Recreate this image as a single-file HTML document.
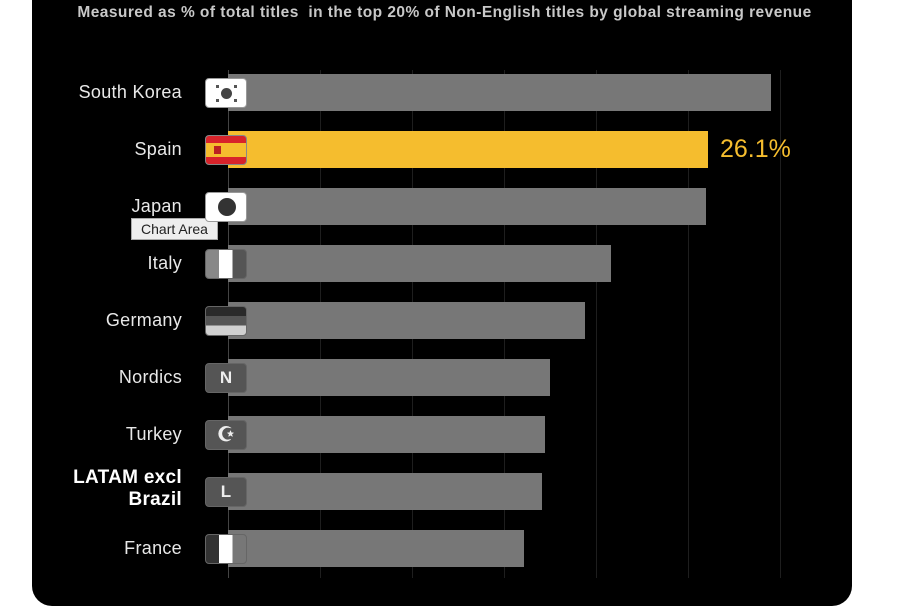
<!DOCTYPE html>
<html><head><meta charset="utf-8"><style>
body{margin:0;width:909px;height:607px;background:#fff;position:relative;overflow:hidden;font-family:"Liberation Sans",sans-serif}
#p{position:absolute;left:32px;top:-20px;width:820px;height:626px;background:#000;border-radius:20px}
.t{position:absolute;left:0;width:889px;top:4px;text-align:center;color:#c8c8c8;font-size:15.5px;letter-spacing:0.45px;font-weight:bold}
.g{position:absolute;top:70px;height:508px;width:1px;background:#1e1e1e}
.bar{position:absolute;left:228px;height:37px;background:#777}
.lab{position:absolute;right:727px;color:#e8e8e8;font-size:18px;letter-spacing:0.3px;text-align:right;line-height:20px}
.f{position:absolute;left:205px;width:42px;height:30px;border-radius:4px;box-sizing:border-box;border:1px solid #666;overflow:hidden;background:#555;color:#eee;font-size:17px;font-weight:bold;text-align:center;line-height:28px}
.d{position:absolute;width:3px;height:3px;background:#555}
</style></head><body>
<div id="p"></div>
<div class="t">Measured as % of total titles&nbsp; in the top 20% of Non-English titles by global streaming revenue</div>
<div class="g" style="left:228px;background:#444"></div>
<div class="g" style="left:320px"></div><div class="g" style="left:412px"></div><div class="g" style="left:504px"></div><div class="g" style="left:596px"></div><div class="g" style="left:688px"></div><div class="g" style="left:780px"></div>

<div class="bar" style="top:74px;width:543px"></div>
<div class="bar" style="top:131px;width:480px;background:#f5bd2e"></div>
<div class="bar" style="top:188px;width:478px"></div>
<div class="bar" style="top:245px;width:383px"></div>
<div class="bar" style="top:302px;width:357px"></div>
<div class="bar" style="top:359px;width:322px"></div>
<div class="bar" style="top:416px;width:317px"></div>
<div class="bar" style="top:473px;width:314px"></div>
<div class="bar" style="top:530px;width:296px"></div>
<div style="position:absolute;left:720px;top:135px;color:#f5bd2e;font-size:25px">26.1%</div>

<div class="lab" style="top:82px">South Korea</div>
<div class="lab" style="top:139px">Spain</div>
<div class="lab" style="top:196px">Japan</div>
<div class="lab" style="top:253px">Italy</div>
<div class="lab" style="top:310px">Germany</div>
<div class="lab" style="top:367px">Nordics</div>
<div class="lab" style="top:424px">Turkey</div>
<div class="lab" style="top:467px;font-weight:bold;font-size:19px;line-height:22px;color:#fff">LATAM excl<br>Brazil</div>
<div class="lab" style="top:538px">France</div>
<div style="position:absolute;left:131px;top:218px;width:85px;height:20px;background:#eee;border:1px solid #aaa;font-size:14px;color:#222;line-height:20px;text-align:center">Chart Area</div>

<div class="f" style="top:78px;background:#fff;border-color:#999"><div style="position:absolute;left:15px;top:9px;width:11px;height:11px;border-radius:50%;background:#444"></div><div class="d" style="left:10px;top:6px"></div><div class="d" style="left:28px;top:6px"></div><div class="d" style="left:10px;top:20px"></div><div class="d" style="left:28px;top:20px"></div></div>
<div class="f" style="top:135px;background:linear-gradient(#d8232a 0 25%,#f5bd2e 25% 75%,#d8232a 75%);border-color:#888"><div style="position:absolute;left:8px;top:10px;width:7px;height:8px;background:#b22"></div></div>
<div class="f" style="top:192px;background:#fff;border-color:#999"><div style="position:absolute;left:12px;top:5px;width:18px;height:18px;border-radius:50%;background:#333"></div></div>
<div class="f" style="top:249px;background:linear-gradient(90deg,#888 0 33%,#fff 33% 66%,#555 66%)"></div>
<div class="f" style="top:306px;background:linear-gradient(#2a2a2a 0 33%,#555 33% 66%,#d0d0d0 66%)"></div>
<div class="f" style="top:363px">N</div>
<div class="f" style="top:420px;font-size:20px">☪</div>
<div class="f" style="top:477px">L</div>
<div class="f" style="top:534px;background:linear-gradient(90deg,#333 0 33%,#fff 33% 66%,#777 66%)"></div>
</body></html>
